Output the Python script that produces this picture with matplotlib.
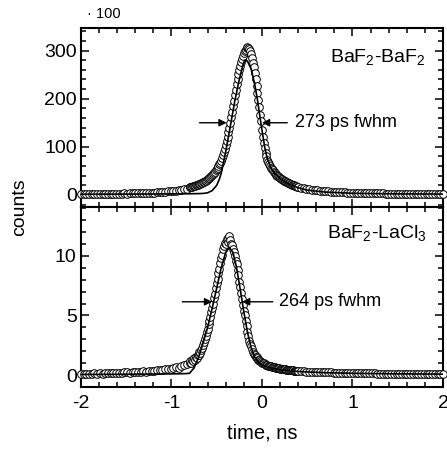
import numpy as np
import matplotlib
matplotlib.use("Agg")
import matplotlib.pyplot as plt
from matplotlib.ticker import MultipleLocator

plt.rcParams['font.family'] = ['Liberation Sans', 'DejaVu Sans']
plt.rcParams['mathtext.fontset'] = 'custom'
plt.rcParams['mathtext.rm'] = 'Liberation Sans'
plt.rcParams['mathtext.it'] = 'Liberation Sans:italic'
plt.rcParams['mathtext.bf'] = 'Liberation Sans:bold'

# ---- BaF2-BaF2 (counts / 100) ----
top_left = [2.0, 2.2, 1.9, 2.1, 2.3, 2.0, 2.2, 2.4, 2.1, 2.3,
            2.5, 2.4, 2.6, 2.8, 2.7, 2.9, 3.1, 3.0, 3.3, 3.5,
            3.4, 3.7, 3.9, 4.1, 4.3, 4.6, 4.9, 5.1, 5.5, 5.9,
            6.3, 6.7, 7.2, 7.7, 8.3, 8.9, 9.6, 10.4, 11.4, 13.0]
top_mid = [16, 16.5, 17, 17.5, 18, 18.6, 19.2, 19.8, 20.5, 21.2,
           22, 22.8, 23.6, 24.5, 25.5, 26.5, 27.6, 28.8, 30, 31.5,
           33, 34.5, 36, 37.5, 39, 41, 43, 45.5, 48, 51,
           54, 57, 60, 63.5, 67, 71, 76, 82, 89, 96,
           104, 112, 121, 130, 140, 150, 161, 172, 184, 196,
           208, 219, 230, 241, 251, 260, 268, 276, 283, 289,
           294, 298, 302, 305, 307, 306, 303, 298, 292, 284,
           275, 265, 254, 241, 227, 212, 197, 182, 167, 153,
           135, 121, 108, 97, 88, 80, 73, 68, 64, 60,
           57, 54, 51, 48.5, 46, 44, 42, 40, 38.5, 37,
           35.5, 34, 32.5, 31, 30, 29, 28, 27, 26, 25,
           24, 23.2, 22.4, 21.6, 20.8, 20, 19.3, 18.6, 18, 17.4]
top_right = [16, 14.8, 13.7, 12.7, 11.8, 11.0, 10.2, 9.5, 8.9, 8.3,
             7.8, 7.3, 6.9, 6.5, 6.1, 5.8, 5.5, 5.2, 5.0, 4.8,
             4.6, 4.4, 4.2, 4.1, 3.9, 3.8, 3.7, 3.5, 3.4, 3.3,
             3.2, 3.1, 3.0, 2.9, 2.9, 2.8, 2.7, 2.6, 2.6, 2.5,
             2.5, 2.4, 2.4, 2.3, 2.3, 2.2, 2.2, 2.1, 2.1, 2.0,
             2.0, 2.0, 1.9, 1.9]
fit_t_top = [-2.0, -1.5, -1.0, -0.8, -0.7, -0.65, -0.6, -0.55, -0.5, -0.47, -0.45,
             -0.4, -0.35, -0.3, -0.25, -0.21, -0.19, -0.16, -0.12, -0.08, -0.05,
             -0.02, 0.0, 0.03, 0.06, 0.1, 0.15, 0.2, 0.3, 0.4, 0.5, 0.7, 1.0, 1.5, 2.0]
fit_top = [1.5, 1.8, 2.2, 2.5, 2.8, 3.2, 4.5, 9, 20, 33, 45,
           90, 142, 195, 240, 270, 280, 278, 262, 230, 198,
           160, 135, 100, 75, 56, 43, 34, 22, 15, 10, 6, 3.5, 2.2, 1.8]

# ---- BaF2-LaCl3 ----
bot_left = [0.10, 0.12, 0.09, 0.13, 0.11, 0.14, 0.12, 0.15, 0.13, 0.16,
            0.15, 0.18, 0.16, 0.19, 0.21, 0.18, 0.22, 0.24, 0.21, 0.26,
            0.28, 0.25, 0.30, 0.33, 0.29, 0.35, 0.38, 0.34, 0.42, 0.45,
            0.41, 0.50, 0.55, 0.49, 0.62, 0.68, 0.60, 0.78, 0.85, 0.95]
bot_mid = [1.05, 1.2, 1.0, 1.3, 1.15, 1.4, 1.3, 1.55, 1.45, 1.7,
           1.65, 1.9, 1.85, 2.1, 2.3, 2.5, 2.75, 3.0, 3.3, 3.65,
           3.9, 4.3, 4.5, 4.9, 5.3, 5.6, 6.0, 6.5, 6.8, 7.3,
           7.7, 8.1, 8.6, 8.9, 9.4, 9.8, 10.1, 10.6, 10.8, 11.1,
           11.0, 11.4, 11.2, 11.5, 11.7, 11.3, 11.0, 10.9, 10.6, 10.3,
           10.0, 9.6, 9.3, 8.8, 8.4, 7.8, 7.4, 6.9, 6.4, 5.9,
           5.4, 5.0, 4.5, 4.1, 3.6, 3.3, 2.9, 2.6, 2.4, 2.15,
           1.95, 1.8, 1.7, 1.55, 1.5, 1.4, 1.3, 1.25, 1.2, 1.1,
           1.05, 1.0, 0.98, 0.92, 0.88, 0.85, 0.82, 0.8, 0.76, 0.74,
           0.72, 0.7, 0.68, 0.66, 0.64, 0.62, 0.6, 0.59, 0.57, 0.56,
           0.55, 0.53, 0.52, 0.51, 0.5, 0.48, 0.47, 0.46, 0.45, 0.44,
           0.43, 0.42, 0.41, 0.4, 0.39, 0.38, 0.37, 0.37, 0.36, 0.35]
bot_right = [0.34, 0.33, 0.31, 0.30, 0.29, 0.28, 0.27, 0.26, 0.25, 0.24,
             0.23, 0.22, 0.22, 0.21, 0.20, 0.20, 0.19, 0.18, 0.18, 0.17,
             0.17, 0.16, 0.16, 0.15, 0.15, 0.15, 0.14, 0.14, 0.14, 0.13,
             0.13, 0.13, 0.12, 0.12, 0.12, 0.12, 0.11, 0.11, 0.11, 0.11,
             0.11, 0.10, 0.10, 0.10, 0.10, 0.10, 0.10, 0.09, 0.09, 0.09,
             0.09, 0.09, 0.09, 0.09]
fit_t_bot = [-2.0, -1.5, -1.0, -0.85, -0.8, -0.75, -0.7, -0.65, -0.6, -0.55, -0.5,
             -0.45, -0.4, -0.36, -0.32, -0.28, -0.24, -0.2, -0.16, -0.12, -0.08,
             -0.04, 0.0, 0.1, 0.2, 0.4, 0.7, 1.0, 1.5, 2.0]
fit_bot = [0.05, 0.07, 0.1, 0.12, 0.15, 0.6, 1.5, 2.7, 4.0, 5.6, 7.3,
           9.0, 10.3, 10.7, 10.3, 9.0, 7.2, 5.3, 3.6, 2.3, 1.5,
           1.1, 0.85, 0.6, 0.45, 0.3, 0.2, 0.15, 0.1, 0.08]


def time_grid(left, mid, right):
    return np.concatenate([np.linspace(-2.0, -0.83, len(left)),
                           np.linspace(-0.80, 0.39, len(mid)),
                           np.linspace(0.40, 2.00, len(right))])


t_top = time_grid(top_left, top_mid, top_right)
y_top = np.array(top_left + top_mid + top_right)
t_bot = time_grid(bot_left, bot_mid, bot_right)
y_bot = np.array(bot_left + bot_mid + bot_right)

fig = plt.figure(figsize=(4.47, 4.5), dpi=100)
ax1 = fig.add_axes([0.181, 0.540, 0.810, 0.398])
ax2 = fig.add_axes([0.181, 0.140, 0.810, 0.400])

panels = [(ax1, t_top, y_top, fit_t_top, fit_top, (-25, 347), 100, 20),
          (ax2, t_bot, y_bot, fit_t_bot, fit_bot, (-1, 14.1), 5, 1)]

for ax, t, y, ft, fy, ylim, major, minor in panels:
    ax.plot(t, y, 'o', ms=5.5, mfc='white', mec='black', mew=0.7, clip_on=False, zorder=3)
    ax.plot(ft, fy, '-', color='black', lw=1.2, zorder=4)
    ax.set_xlim(-2, 2)
    ax.set_ylim(*ylim)
    ax.xaxis.set_major_locator(MultipleLocator(1))
    ax.xaxis.set_minor_locator(MultipleLocator(0.2))
    ax.yaxis.set_major_locator(MultipleLocator(major))
    ax.yaxis.set_minor_locator(MultipleLocator(minor))
    ax.tick_params(which='both', direction='in', top=True, right=True,
                   labelsize=14, width=1.1)
    ax.tick_params(axis='y', pad=3)
    ax.tick_params(axis='x', pad=6)
    ax.tick_params(which='major', length=6)
    ax.tick_params(which='minor', length=3.5)
    for s in ax.spines.values():
        s.set_linewidth(1.5)

ax1.tick_params(labelbottom=False)
ax2.set_xticks([-2, -1, 0, 1, 2])
ax2.set_xticklabels(['-2', '-1', '0', '1', '2'])

ax1.text(0.95, 0.84, 'BaF$_2$-BaF$_2$', transform=ax1.transAxes, ha='right', va='center', fontsize=14)
ax2.text(0.956, 0.856, 'BaF$_2$-LaCl$_3$', transform=ax2.transAxes, ha='right', va='center', fontsize=14)

arrow = dict(arrowstyle='-|>', color='black', lw=1.0, mutation_scale=11, shrinkA=0, shrinkB=0)
ax1.annotate('', xy=(-0.39, 150), xytext=(-0.69, 150), arrowprops=arrow)
ax1.annotate('', xy=(0.0, 150), xytext=(0.28, 150), arrowprops=arrow)
ax1.text(0.36, 150, '273 ps fwhm', ha='left', va='center', fontsize=13)
ax2.annotate('', xy=(-0.55, 6.15), xytext=(-0.88, 6.15), arrowprops=arrow)
ax2.annotate('', xy=(-0.22, 6.15), xytext=(0.12, 6.15), arrowprops=arrow)
ax2.text(0.19, 6.15, '264 ps fwhm', ha='left', va='center', fontsize=13)

fig.text(0.195, 0.969, '· 100', ha='left', va='center', fontsize=10.5)
fig.text(0.045, 0.54, 'counts', rotation=90, ha='center', va='center', fontsize=14)
ax2.set_xlabel('time, ns', fontsize=14.5, labelpad=8)

fig.savefig('out.png', dpi=100)
